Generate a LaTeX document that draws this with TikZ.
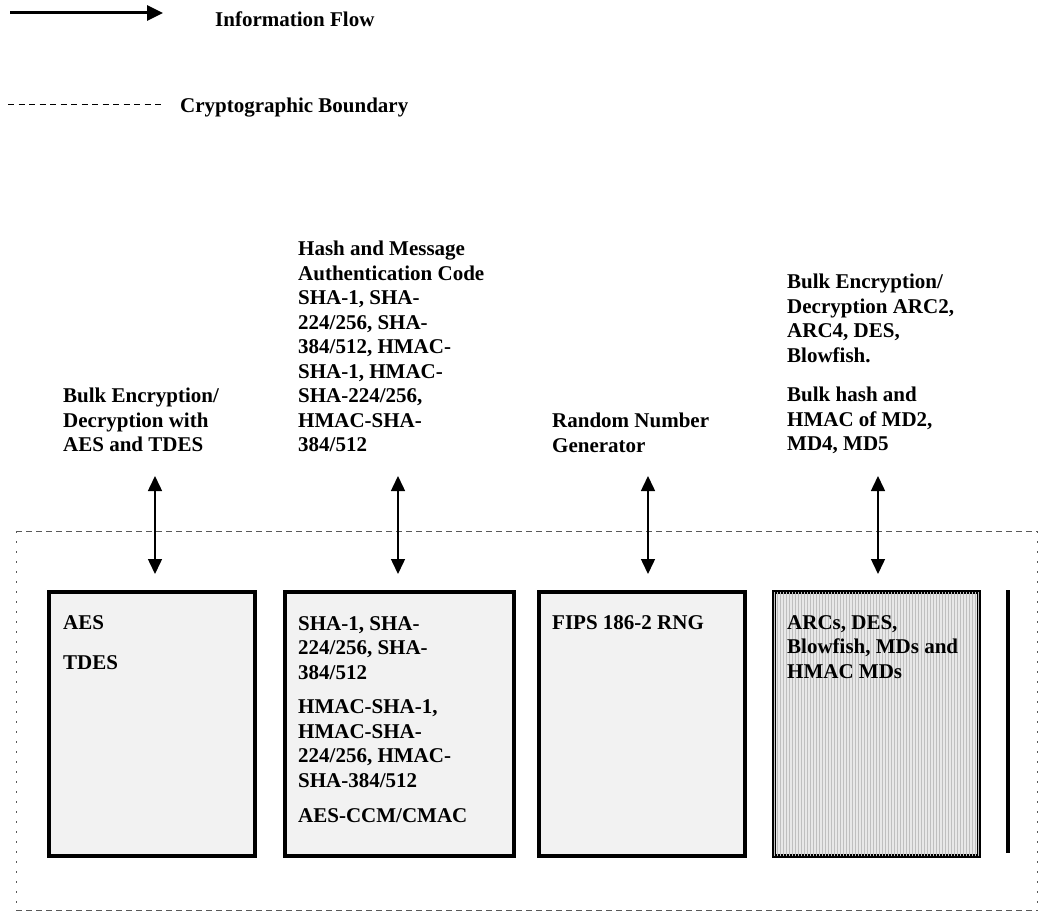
\documentclass[tikz,border=0pt]{standalone}
\usepackage{fontspec}
\setmainfont{Liberation Serif}
\usetikzlibrary{arrows.meta,patterns.meta}
\tikzset{
  lbl/.style={anchor=north west,inner sep=0pt,align=left,font=\fontsize{21}{24.5}\selectfont\bfseries},
  legendtxt/.style={anchor=base west,inner sep=0pt,font=\fontsize{21}{24.5}\selectfont\bfseries},
  modbox/.style={draw=black,line width=4pt,fill=black!5,inner sep=0pt,anchor=north west,minimum height=264pt},
  stripebox/.style={modbox,fill=black!9,postaction={pattern={Lines[angle=90,distance=3pt,line width=0.8pt]},pattern color=black!25}},
  flow/.style={line width=1.5pt,{Triangle[length=15pt,width=14pt]}-{Triangle[length=15pt,width=14pt]}},
  legendflow/.style={line width=3pt,-{Triangle[length=16pt,width=15pt]}},
  legenddash/.style={line width=1pt,dash pattern=on 6pt off 4.5pt},
  bdash/.style={line width=1pt,black!65,dash pattern=on 6pt off 4pt},
  bdot/.style={line width=1pt,black!65,dash pattern=on 1.5pt off 8.5pt},
}
\begin{document}
\begin{tikzpicture}[x=1pt,y=-1pt]
\useasboundingbox (0,0) rectangle (1039,915);
% legend
\coordinate (lfa) at (10,13);
\coordinate (lfb) at (163,13);
\draw[legendflow] (lfa) -- (lfb);
\node[legendtxt] (lflow) at (215,27) {Information Flow};
\coordinate (lda) at (8,105);
\coordinate (ldb) at (162,105);
\draw[legenddash] (lda) -- (ldb);
\node[legendtxt] (lbound) at (180,113) {Cryptographic Boundary};
% cryptographic boundary
\coordinate (btl) at (16,531);
\coordinate (btr) at (1037.5,531);
\coordinate (bbl) at (16,910);
\coordinate (bbr) at (1037.5,910);
\draw[bdash] (btl) -- (btr);
\draw[bdash] (bbl) -- (bbr);
\draw[bdot] (btl) -- (bbl);
\draw[bdot] (btr) -- (bbr);
% services labels
\node[lbl] (s1) at (63,388) {Bulk Encryption/\\Decryption with\\AES and TDES};
\node[lbl] (s2) at (298,241) {Hash and Message\\Authentication Code\\SHA-1, SHA-\\224/256, SHA-\\384/512, HMAC-\\SHA-1, HMAC-\\SHA-224/256,\\HMAC-SHA-\\384/512};
\node[lbl] (s3) at (552,413) {Random Number\\Generator};
\node[lbl] (s4) at (787,274) {Bulk Encryption/\\Decryption ARC2,\\ARC4, DES,\\Blowfish.\\[15pt]Bulk hash and\\HMAC of MD2,\\MD4, MD5};
% boxes
\node[modbox,minimum width=206pt] (b1) at (47,590) {};
\node[modbox,minimum width=229pt] (b2) at (283,590) {};
\node[modbox,minimum width=206pt] (b3) at (537,590) {};
\node[stripebox,minimum width=205pt] (b4) at (772,590) {};
\coordinate (bara) at (1008,590);
\coordinate (barb) at (1008,853);
\draw[line width=4pt] (bara) -- (barb);
% box texts
\node[lbl] (t1) at (63,615) {AES\\[15.5pt]TDES};
\node[lbl] (t2) at (298,616) {SHA-1, SHA-\\224/256, SHA-\\384/512\\[10pt]HMAC-SHA-1,\\HMAC-SHA-\\224/256, HMAC-\\SHA-384/512\\[11pt]AES-CCM/CMAC};
\node[lbl] (t3) at (552,615) {FIPS 186-2 RNG};
\node[lbl] (t4) at (787,615) {ARCs, DES,\\Blowfish, MDs and\\HMAC MDs};
% flows
\foreach \i/\x in {1/155,2/398,3/648,4/878}{
  \coordinate (f\i a) at (\x,476);
  \coordinate (f\i b) at (\x,574);
  \draw[flow] (f\i a) -- (f\i b);
}
\end{tikzpicture}
\end{document}
